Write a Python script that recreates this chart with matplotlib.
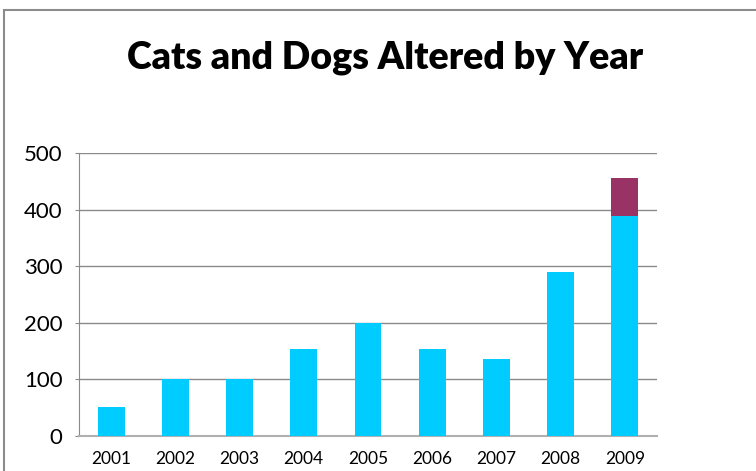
import matplotlib
matplotlib.use("Agg")
import matplotlib.pyplot as plt
from matplotlib.patches import Rectangle
import numpy as np

years = ["2001", "2002", "2003", "2004", "2005", "2006", "2007", "2008", "2009"]
first_series = [50, 100, 100, 153, 200, 153, 135, 289, 389]
second_series = [0, 0, 0, 0, 0, 0, 0, 0, 66]

plt.rcParams['font.family'] = ['Lato', 'DejaVu Sans']

fig = plt.figure(figsize=(7.56, 4.71), dpi=100)

# outer chart border (right and bottom run off the image)
fig.patches.append(Rectangle((4 / 756, -0.1), 1.2, 1 - 10 / 471 + 0.1,
                             transform=fig.transFigure, fill=False,
                             edgecolor='#8c8c8c', linewidth=1.5))

ax = fig.add_axes([79 / 756, 1 - 435.7 / 471, (657 - 79) / 756, (435.7 - 153) / 471])

x = np.arange(len(years))
ax.bar(x, first_series, width=0.42, color='#00CCFF', zorder=3)
ax.bar(x, second_series, width=0.42, bottom=first_series, color='#993366', zorder=3)

ax.set_xlim(-0.5, len(years) - 0.5)
ax.set_ylim(0, 500)
ax.set_yticks(range(0, 501, 100))
ax.set_xticks(x)
ax.set_xticklabels(years)

ax.grid(axis='y', color='#8a8a8a', linewidth=1, zorder=0)
for side in ['top', 'right']:
    ax.spines[side].set_visible(False)
ax.spines['left'].set_color('#8a8a8a')
ax.spines['bottom'].set_color('#b0b0b0')
ax.spines['bottom'].set_linewidth(1.5)
ax.tick_params(axis='y', length=3, color='#8a8a8a', labelsize=16, pad=9)
ax.tick_params(axis='x', length=0, labelsize=12.5, pad=11)

fig.text(385 / 756, 1 - 58 / 471, "Cats and Dogs Altered by Year", ha='center', va='center',
         fontsize=27, fontweight='heavy')

fig.savefig("out.png", dpi=100)
